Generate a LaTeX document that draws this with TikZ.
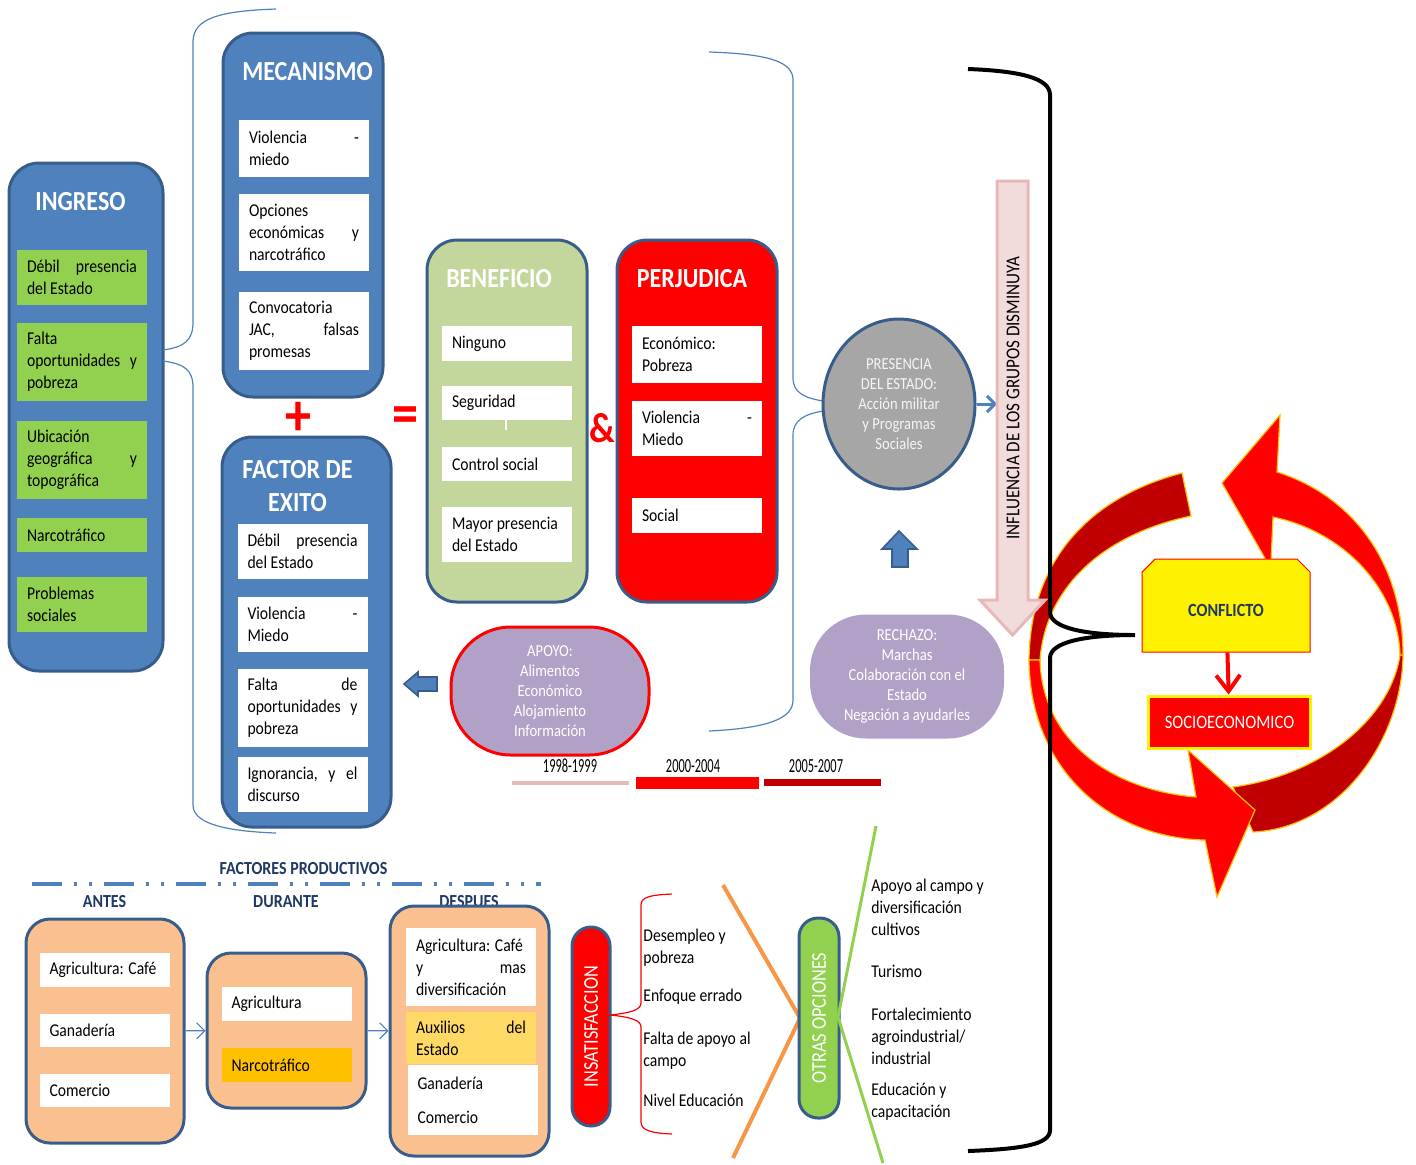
\documentclass[tikz,border=0pt]{standalone}
\usepackage{fontspec}
\setmainfont{Carlito}[FakeStretch=0.87]
\newfontfamily\narrowfont{Carlito}[FakeStretch=0.62]
\usepackage{xcolor}
\usepackage{tikz}
\usetikzlibrary{shapes.geometric, shapes.misc, arrows.meta}

\definecolor{bordblue}{HTML}{385D8A}
\definecolor{panelblue}{HTML}{4F81BD}
\definecolor{leafgreen}{HTML}{92D050}
\definecolor{benefgreen}{HTML}{C3D69B}
\definecolor{darkred}{HTML}{C00000}
\definecolor{peach}{HTML}{FAC090}
\definecolor{amber}{HTML}{FFC000}
\definecolor{paleamber}{HTML}{FFD966}
\definecolor{lilac}{HTML}{B2A1C7}
\definecolor{stategray}{HTML}{A6A6A6}
\definecolor{pinkfill}{HTML}{F2DCDB}
\definecolor{pinkline}{HTML}{E6B9B8}
\definecolor{orangeline}{HTML}{F79646}
\definecolor{navy}{HTML}{1F3864}

\begin{document}
\begin{tikzpicture}[x=0.5pt, y=-0.5pt,
  panel/.style={draw=bordblue, line width=1.5pt, rounded corners=15pt, inner sep=0pt},
  ptitle/.style={text=white, align=center, font=\fontsize{13.8}{16.5}\selectfont\bfseries},
  item/.style={fill=white, text width=55pt, inner xsep=5pt, inner ysep=0pt, align=flush left, font=\fontsize{9}{11}\selectfont},
  sign/.style={text=red, font=\fontsize{30}{30}\selectfont\bfseries},
  brace/.style={draw=panelblue, line width=0.6pt},
  bubble/.style={fill=lilac, text=white, align=center, inner sep=0pt, font=\fontsize{8.4}{10}\selectfont},
  colhead/.style={text=navy, font=\fontsize{9.2}{11}\selectfont\bfseries},
  pill/.style={draw=bordblue, line width=1.5pt, rounded corners=9.5pt, rotate=90, text=white, inner sep=0pt, font=\fontsize{10.5}{12}\selectfont},
  note/.style={anchor=west, align=left, inner sep=0pt, font=\fontsize{9}{11}\selectfont},
  block/.style={fill=panelblue, draw=bordblue, line width=0.8pt},
  ring/.style={draw=amber, line width=0.6pt},
  flow/.style={draw=panelblue, line width=0.6pt, -{Straight Barb[length=4pt, width=8pt]}},
  period/.style={font=\narrowfont\fontsize{10}{12}\selectfont}
]
\useasboundingbox (0,0) rectangle (1416,1164);

\node (ingreso) [panel, fill=panelblue, minimum width=77pt, minimum height=254pt] at (86,417) {};
\node (ingresot) [ptitle] at (80.5,202) {INGRESO};
\node (g1) [item, fill=leafgreen, minimum height=27.5pt] at (82,277.5) {Débil\hfill presencia\\del Estado};
\node (g2) [item, fill=leafgreen, minimum height=39pt] at (82,362) {Falta\\oportunidades\hfill y\\pobreza};
\node (g3) [item, fill=leafgreen, minimum height=39pt] at (82,460) {Ubicación\\geográfica\hfill y\\topográfica};
\node (g4) [item, fill=leafgreen, minimum height=17pt] at (82,535) {Narcotráfico};
\node (g5) [item, fill=leafgreen, minimum height=27.5pt] at (82,604.5) {Problemas\\sociales};

\node (mecan) [panel, fill=panelblue, minimum width=80pt, minimum height=182pt] at (303,215) {};
\node (mecant) [ptitle] at (307.5,72) {MECANISMO};
\node (m1) [item, minimum height=28.5pt] at (304,148.5) {Violencia\hfill -\\miedo};
\node (m2) [item, minimum height=38.5pt] at (304,232.5) {Opciones\\económicas\hfill y\\narcotráfico};
\node (m3) [item, minimum height=39pt] at (304,331) {Convocatoria\\JAC,\hfill falsas\\promesas};

\node (plus) [sign] at (298,419) {+};
\node (equal) [sign] at (405,420) {=};

\node (factor) [panel, fill=panelblue, minimum width=84.5pt, minimum height=195pt] at (306.5,632) {};
\node (factort) [ptitle] at (297.5,486.5) {FACTOR DE\\EXITO};
\node (f1) [item, minimum height=27.5pt] at (302.5,551.5) {Débil\hfill presencia\\del Estado};
\node (f2) [item, minimum height=27.5pt] at (302.5,624.5) {Violencia\hfill -\\Miedo};
\node (f3) [item, minimum height=39pt] at (302.5,708) {Falta\hfill de\\oportunidades\hfill y\\pobreza};
\node (f4) [item, minimum height=27.5pt] at (302.5,784.5) {Ignorancia,\hfill y\hfill el\\discurso};

\draw[brace] (276,9) .. controls (220,11) and (193,18) .. (193,42) -- (193,322) .. controls (193,340) and (185,347) .. (163,350);
\draw[brace] (163,361) .. controls (185,364) and (193,370) .. (193,388) -- (193,805) .. controls (193,822) and (220,831) .. (276,833);

\node (benef) [panel, fill=benefgreen, minimum width=80pt, minimum height=181pt] at (507,421) {};
\node (beneft) [ptitle] at (499,279) {BENEFICIO};
\node (b1) [item, minimum height=17.5pt] at (507,343.5) {Ninguno};
\node (b2) [item, minimum height=17pt] at (507,403) {Seguridad};
\node (b3) [item, minimum height=17pt] at (507,464) {Control social};
\node (b4) [item, minimum height=27.5pt] at (507,534.5) {Mayor presencia\\del Estado};
\draw[white, line width=1pt] (506,420) -- (506,430);

\node (amp) [sign, font=\fontsize{21}{21}\selectfont\bfseries] at (602,428) {\&};

\node (perj) [panel, fill=red, minimum width=80pt, minimum height=181pt] at (697,421) {};
\node (perjt) [ptitle] at (692,279) {PERJUDICA};
\node (p1) [item, minimum height=28.5pt] at (697,354.5) {Económico:\\Pobreza};
\node (p2) [item, minimum height=27.5pt] at (697,428.5) {Violencia\hfill -\\Miedo};
\node (p3) [item, minimum height=17.5pt] at (697,515.5) {Social};

\draw[brace] (709,52) .. controls (770,54) and (793,62) .. (793,80) -- (793,378) .. controls (793,393) and (805,398) .. (823,401);
\draw[brace] (823,411) .. controls (805,414) and (793,420) .. (793,435) -- (793,700) .. controls (793,718) and (770,728) .. (709,731);

\node (estado) [ellipse, fill=stategray, draw=bordblue, line width=1.5pt, minimum width=76pt, minimum height=85pt, inner sep=0pt, align=center, text=white!92!gray, font=\fontsize{8.4}{10}\selectfont] at (899,404) {PRESENCIA\\DEL ESTADO:\\Acción militar\\y Programas\\Sociales};
\coordinate (inflw) at (997,404);
\draw[panelblue, line width=1.5pt, -{Straight Barb[length=4pt, width=8pt]}] (estado) -- (inflw);

\draw[block] (892,567) -- (892,549) -- (882,549) -- (899,531) -- (917,549) -- (908,549) -- (908,567) -- cycle;

\node (apoyo) [bubble, draw=red, line width=1.5pt, rounded corners=30pt, minimum width=99pt, minimum height=64pt] at (550,691) {APOYO:\\Alimentos\\Económico\\Alojamiento\\Información};
\draw[block] (437,677) -- (418,677) -- (418,672) -- (404,684) -- (418,696) -- (418,691) -- (437,691) -- cycle;
\node (rechazo) [bubble, rounded corners=28pt, minimum width=97pt, minimum height=62pt] at (907,676.5) {RECHAZO:\\Marchas\\Colaboración con el\\Estado\\Negación a ayudarles};

\node (t1) [period] at (570,766) {1998-1999};
\node (t2) [period] at (693,766) {2000-2004};
\node (t3) [period] at (816,766) {2005-2007};
\fill[pinkline] (512,781) rectangle (629,785);
\fill[red] (636,777) rectangle (759,789);
\fill[darkred] (764,779) rectangle (881,786);

\filldraw[ring, fill=darkred] (1233,787) .. controls (1320,775) and (1390,720) .. (1400,655) -- (1403,655) .. controls (1402,740) and (1340,828) .. (1253,832) -- cycle;
\filldraw[ring, fill=red] (1400,655) .. controls (1398,590) and (1345,532) .. (1273,517) -- (1271,560) -- (1266,560) -- (1222,483) -- (1280,415) -- (1277,472) .. controls (1350,495) and (1403,560) .. (1403,655) -- cycle;
\filldraw[ring, fill=darkred] (1182,473) .. controls (1090,497) and (1030,560) .. (1029,660) -- (1040,660) .. controls (1045,590) and (1100,535) .. (1191,516) -- cycle;
\filldraw[ring, fill=red] (1029,660) .. controls (1030,770) and (1110,838) .. (1205,840) -- (1217,897) -- (1255,810) -- (1188,750) -- (1196,797) .. controls (1110,790) and (1042,740) .. (1040,660) -- cycle;

\node (conf) [chamfered rectangle, chamfered rectangle corners={north west, north east}, chamfered rectangle xsep=6pt, fill=yellow, draw=red, line width=0.5pt, minimum width=84pt, minimum height=46.5pt, text=navy, font=\fontsize{9.3}{11}\selectfont\bfseries] at (1226,605.5) {\raisebox{-5.5pt}[0pt][0pt]{CONFLICTO}};
\node (socio) [fill=red, draw=yellow, line width=1.5pt, minimum width=81pt, minimum height=26pt, text=white, font=\fontsize{9.5}{11}\selectfont] at (1229.5,722) {SOCIOECONOMICO};
\draw[red, line width=2pt, -{Straight Barb[length=8pt, width=12pt]}] (conf) -- (socio);

\draw[draw=pinkline, fill=pinkfill, line width=1.5pt] (997,181) -- (1028,181) -- (1028,600) -- (1045,600) -- (1012.5,635) -- (980,600) -- (997,600) -- cycle;
\node (infl) [rotate=90, font=\fontsize{9.8}{12}\selectfont] at (1013,398) {INFLUENCIA DE LOS GRUPOS DISMINUYA};

\draw[line width=2pt] (968,69) .. controls (1020,71) and (1050,78) .. (1050,95) -- (1050,612) .. controls (1050,628) and (1085,635) .. (1135,635) .. controls (1085,635) and (1050,642) .. (1050,658) -- (1050,1130) .. controls (1050,1145) and (1020,1149) .. (968,1151);

\node (factores) [colhead] at (303.5,869) {FACTORES PRODUCTIVOS};
\draw[panelblue, line width=2pt, dash pattern=on 15pt off 6pt on 1.5pt off 6pt on 1.5pt off 6pt] (32,884) -- (541,884);
\node (antesh) [colhead] at (104.5,902) {ANTES};
\node (duranteh) [colhead] at (286,902) {DURANTE};
\node (despuesh) [colhead] at (469,902) {DESPUES};

\node (antes) [panel, fill=peach, rounded corners=12pt, minimum width=79pt, minimum height=112pt] at (105,1031) {};
\node (a1) [item, minimum height=17pt] at (104.5,970) {Agricultura: Café};
\node (a2) [item, minimum height=16.5pt] at (104.5,1030.5) {Ganadería};
\node (a3) [item, minimum height=16.5pt] at (104.5,1090.5) {Comercio};

\node (durante) [panel, fill=peach, rounded corners=12pt, minimum width=79.5pt, minimum height=77.5pt] at (286.5,1030.5) {};
\node (d1) [item, minimum height=17pt] at (286.5,1004) {Agricultura};
\node (d2) [item, fill=amber, minimum height=17pt] at (286.5,1065) {Narcotráfico};

\node (despues) [panel, fill=peach, rounded corners=12pt, minimum width=79.5pt, minimum height=125pt] at (469.5,1031) {};
\node (e1) [item, minimum height=39pt] at (471,967) {Agricultura: Café\\y\hfill mas\\diversificación};
\node (e2) [item, fill=paleamber, minimum height=26pt] at (471,1038) {Auxilios\hfill del\\Estado};
\node (e3) [item, minimum height=35pt] at (472.5,1100) {Ganadería\\[6pt]Comercio};

\draw[flow] (antes) -- (durante);
\draw[flow] (durante) -- (despues);

\node (insat) [pill, fill=red, minimum width=99.5pt, minimum height=19pt] at (591,1026.5) {INSATISFACCION};
\draw[red, line width=0.6pt] (672,894) .. controls (650,895) and (641,897) .. (641,905) -- (641,1003) .. controls (641,1010) and (630,1013) .. (610,1015) .. controls (630,1017) and (641,1020) .. (641,1027) -- (641,1122) .. controls (641,1130) and (650,1133) .. (672,1134);

\node (i1) [note] at (643,947.5) {Desempleo y\\pobreza};
\node (i2) [note] at (643,997) {Enfoque errado};
\node (i3) [note] at (643,1050.5) {Falta de apoyo al\\campo};
\node (i4) [note] at (643,1100) {Nivel Educación};

\draw[orangeline, line width=2pt] (723,885) -- (800,1018) -- (733,1158);
\node (otras) [pill, fill=leafgreen, minimum width=100pt, minimum height=20pt] at (819,1018) {OTRAS OPCIONES};
\draw[leafgreen, line width=1.5pt] (876,826) -- (838,1017) -- (883,1163);

\node (o1) [note] at (871,907) {Apoyo al campo y\\diversificación\\cultivos};
\node (o2) [note] at (871,971) {Turismo};
\node (o3) [note] at (871,1036) {Fortalecimiento\\agroindustrial/\\industrial};
\node (o4) [note] at (871,1102) {Educación y\\capacitación};
\end{tikzpicture}
\end{document}
